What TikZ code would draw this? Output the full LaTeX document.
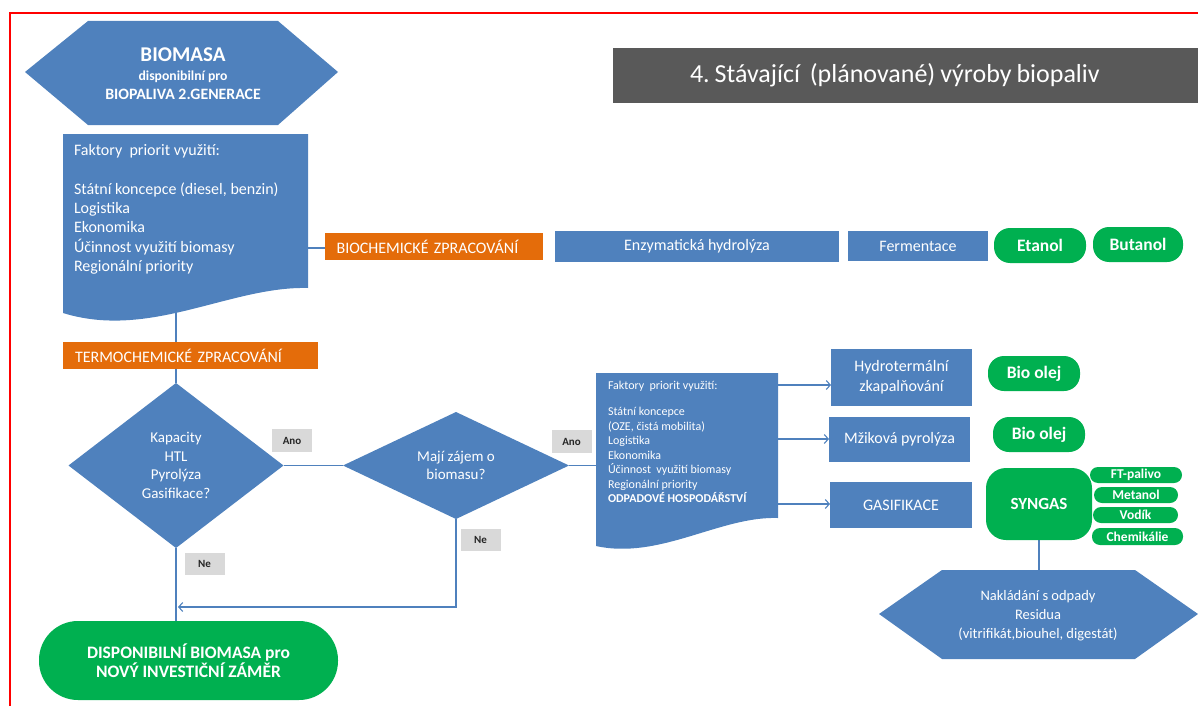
\documentclass[tikz,border=0pt]{standalone}
\usepackage{fontspec}
\setmainfont{Carlito}
\usetikzlibrary{shapes.geometric,arrows.meta,backgrounds}
\frenchspacing

\definecolor{boxblue}{RGB}{79,129,189}
\definecolor{lineblue}{RGB}{79,129,189}
\definecolor{procorange}{RGB}{228,108,10}
\definecolor{prodgreen}{RGB}{0,176,80}
\definecolor{titlegray}{RGB}{89,89,89}
\definecolor{taggray}{RGB}{217,217,217}
\definecolor{framered}{RGB}{255,0,0}

\newcommand{\fs}[2]{\fontsize{#1}{#2}\selectfont}

\tikzset{
  every node/.style={inner sep=0pt, outer sep=0pt},
  bluebox/.style={rectangle, fill=boxblue, text=white, align=center, font=\fs{16}{20}},
  orangebar/.style={rectangle, fill=procorange, text=white, align=left, font=\fs{16}{19}, minimum height=27pt},
  product/.style={rectangle, rounded corners=#1, fill=prodgreen, text=white, align=center, font=\bfseries\fs{17.5}{19.5}},
  product/.default=16pt,
  subproduct/.style={product=8pt, font=\bfseries\fs{13.5}{15}, minimum height=16pt},
  decision/.style={diamond, fill=boxblue, text=white, align=center, font=\fs{15}{18.5}},
  answertag/.style={rectangle, fill=taggray, text=black!85, font=\bfseries\fs{11}{13}, minimum width=40pt, minimum height=22.5pt},
  hexlabel/.style={text=white, align=center},
  doctext/.style={text=white, align=left, anchor=north west},
  conn/.style={draw=lineblue, line width=1.2pt},
  flow/.style={conn, -{Straight Barb[length=4pt,width=9pt,line width=1.1pt]}},
}

\begin{document}
\begin{tikzpicture}[x=1pt,y=-1pt]
\useasboundingbox (0,0) rectangle (1198,706);

% page frame
\draw[framered, line width=2pt] (9.5,706) -- (9.5,13.5) -- (1198,13.5);

% title bar
\node[fill=titlegray, text=white, font=\fs{26}{30}, minimum height=55pt, text width=565pt,
      inner xsep=10pt, align=left, anchor=west] (title) at (613,75.5)
  {\spaceskip=0.19em\hspace*{67pt}4. Stávající\ \ (plánované) výroby biopaliv};

% source hexagon
\fill[boxblue] (25,72) -- (88,21) -- (278,21) -- (338,72) -- (278,125) -- (88,125) -- cycle;
\node[hexlabel, font=\bfseries\fs{15.8}{19}] (source) at (183,74)
  {{\fs{21}{19}BIOMASA}\\{\fs{13.7}{19}disponibilní pro}\\BIOPALIVA 2.GENERACE};

% first factor document
\fill[boxblue] (63,134) -- (308,134) -- (308,288) .. controls (230,286) and (150,340) .. (63,313) -- cycle;
\node[doctext, font=\fs{16}{19.3}] (factors1) at (74,144.5)
  {Faktory\ \ priorit využití:\\[19.3pt]Státní koncepce (diesel, benzin)\\Logistika\\Ekonomika\\Účinnost využití biomasy\\Regionální priority};
\coordinate (f1east) at (300,248);
\coordinate (f1south) at (176,312);

% biochemical route
\node[orangebar, minimum width=218pt, text width=194.8pt, inner xsep=11.6pt] (biochem) at (434,246.5) {BIOCHEMICKÉ ZPRACOVÁNÍ};
\node[bluebox, minimum width=284pt, minimum height=31pt] (hydrolysis) at (697,246.5) {Enzymatická hydrolýza};
\node[bluebox, minimum width=140pt, minimum height=30pt] (fermentation) at (918,246) {Fermentace};
\node[product, minimum width=92pt, minimum height=35pt] (ethanol) at (1040,245.5) {Etanol};
\node[product, minimum width=90pt, minimum height=35pt] (butanol) at (1138,244.5) {Butanol};

% thermochemical route
\node[orangebar, minimum width=255pt, text width=231pt, inner xsep=12pt] (thermochem) at (190.5,355.5) {TERMOCHEMICKÉ ZPRACOVÁNÍ};
\node[decision, minimum width=215pt, minimum height=165pt] (capacity) at (176,465.5) {Kapacity\\HTL\\Pyrolýza\\Gasifikace?};
\node[decision, minimum width=226pt, minimum height=107pt, aspect=2] (interest) at (456,465.5) {Mají zájem o\\biomasu?};

\node[answertag] (yes1) at (292,440.5) {Ano};
\node[answertag] (no1) at (204.5,564) {Ne};
\node[answertag] (yes2) at (571.5,441.5) {Ano};
\node[answertag] (no2) at (480.5,540) {Ne};

% second factor document
\fill[boxblue] (596,373) -- (778,373) -- (778,518) .. controls (720,516) and (660,560) .. (596,546) -- cycle;
\node[doctext, font=\fs{12}{14.5}] (factors2) at (608,381.4)
  {Faktory\ \ priorit využití:\\[11.5pt]Státní koncepce\\(OZE, čistá mobilita)\\Logistika\\Ekonomika\\Účinnost\ \ využití biomasy\\Regionální priority\\\textbf{ODPADOVÉ HOSPODÁŘSTVÍ}};
\coordinate (f2west) at (600,465.5);
\coordinate (f2a) at (777,385);
\coordinate (f2b) at (777,439);
\coordinate (f2c) at (777,504);

% conversion technologies and products
\node[bluebox, minimum width=141pt, minimum height=57pt] (htl) at (901.5,377.5) {Hydrotermální\\zkapalňování};
\node[bluebox, minimum width=141pt, minimum height=45pt] (flash) at (899.5,439.5) {Mžiková pyrolýza};
\node[bluebox, minimum width=142pt, minimum height=46pt] (gasif) at (901,505) {GASIFIKACE};

\node[product, minimum width=92pt, minimum height=35pt] (oil1) at (1034,373.5) {Bio olej};
\node[product, minimum width=92pt, minimum height=35pt] (oil2) at (1039,434.5) {Bio olej};
\node[product=20pt, minimum width=106pt, minimum height=72pt, font=\bfseries\fs{17}{19}] (syngas) at (1039,504) {SYNGAS};
\node[subproduct, minimum width=92pt] (ft) at (1136,475) {FT-palivo};
\node[subproduct, minimum width=84pt] (methanol) at (1136,495) {Metanol};
\node[subproduct, minimum width=85pt] (hydrogen) at (1135.5,515) {Vodík};
\node[subproduct, minimum width=91pt, minimum height=17pt] (chem) at (1137.5,536.5) {Chemikálie};

% residue hexagon
\fill[boxblue] (879,614) -- (942,570) -- (1135,570) -- (1198,614) -- (1135,659) -- (942,659) -- cycle;
\coordinate (hex2top) at (1039,570);
\node[hexlabel, font=\fs{14.5}{19}] (residues) at (1038,616) {Nakládání s odpady\\Residua\\(vitrifikát,biouhel, digestát)};

% outcome
\node[product=39pt, minimum width=299pt, minimum height=79pt] (available) at (188.5,660.5) {DISPONIBILNÍ BIOMASA pro\\NOVÝ INVESTIČNÍ ZÁMĚR};
\coordinate (nojoin) at (178,607);

% connectors
\begin{pgfonlayer}{background}
  \draw[conn] (f1east) -- (f1east -| biochem.west);
  \draw[conn] (f1south) -- (f1south |- thermochem.north);
  \draw[conn] (thermochem.south -| capacity.north) -- (capacity.north);
  \draw[conn] (capacity.east) -- (interest.west);
  \draw[conn] (interest.east) -- (f2west);
  \draw[conn] (capacity.south) -- (capacity.south |- available.north);
  \draw[flow] (interest.south) |- (nojoin);
  \draw[flow] (f2a) -- (f2a -| htl.west);
  \draw[flow] (f2b) -- (f2b -| flash.west);
  \draw[flow] (f2c) -- (f2c -| gasif.west);
  \draw[conn] (syngas.south) -- (hex2top);
\end{pgfonlayer}
\end{tikzpicture}
\end{document}
